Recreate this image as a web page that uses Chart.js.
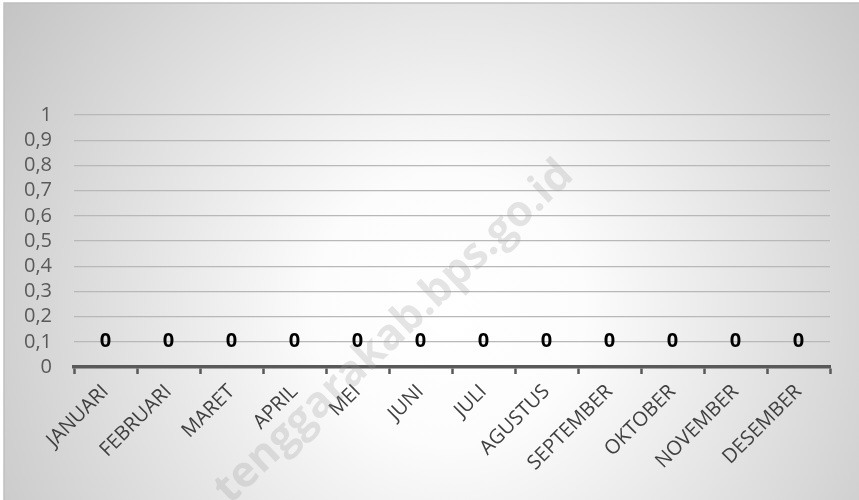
<!DOCTYPE html>
<html>
<head>
<meta charset="utf-8">
<script src="https://cdn.jsdelivr.net/npm/chart.js@4"></script>
<style>
  html, body { margin: 0; padding: 0; background: #ffffff; }
  #wrap { width: 859px; height: 500px; position: relative; }
</style>
</head>
<body>
<div id="wrap"><canvas id="myChart" width="859" height="500"></canvas></div>
<script>
let months = ["JANUARI", "FEBRUARI", "MARET", "APRIL", "MEI", "JUNI", "JULI",
  "AGUSTUS", "SEPTEMBER", "OKTOBER", "NOVEMBER", "DESEMBER"];
let values = [0, 0, 0, 0, 0, 0, 0, 0, 0, 0, 0, 0];
let yMin = 0;
let yMax = 1;
let yStep = 0.1;
let watermark = "tenggarakab.bps.go.id";

// background: radial grey-white gradient with a thin frame on top/left
const backgroundPlugin = {
  id: "background",
  beforeDraw(chart) {
    let ctx = chart.ctx;
    ctx.save();
    ctx.fillStyle = "#ffffff";
    ctx.fillRect(0, 0, chart.width, chart.height);
    let grad = ctx.createRadialGradient(450, 310, 0, 450, 310, 540);
    grad.addColorStop(0, "#ffffff");
    grad.addColorStop(0.25, "#fcfcfc");
    grad.addColorStop(1, "#c4c4c4");
    ctx.fillStyle = grad;
    ctx.fillRect(4, 3, chart.width, chart.height);
    ctx.strokeStyle = "#c0c0c0";
    ctx.lineWidth = 1.5;
    ctx.beginPath();
    ctx.moveTo(4, chart.height);
    ctx.lineTo(4, 3);
    ctx.lineTo(chart.width, 3);
    ctx.stroke();
    ctx.restore();
  }
};

// faint diagonal site watermark
const watermarkPlugin = {
  id: "watermark",
  beforeDatasetsDraw(chart) {
    let ctx = chart.ctx;
    ctx.save();
    ctx.translate(230, 505);
    ctx.rotate(-43.5 * Math.PI / 180);
    ctx.font = "bold 43px 'Open Sans'";
    ctx.fillStyle = "rgba(150, 150, 150, 0.25)";
    ctx.textAlign = "left";
    ctx.textBaseline = "alphabetic";
    ctx.fillText(watermark, 0, 0);
    ctx.restore();
  }
};

// bold value labels above each bar
const valueLabelPlugin = {
  id: "valueLabels",
  afterDatasetsDraw(chart) {
    let ctx = chart.ctx;
    let yScale = chart.scales.y;
    let meta = chart.getDatasetMeta(0);
    ctx.save();
    ctx.font = "bold 20px 'Open Sans'";
    ctx.fillStyle = "#000000";
    ctx.textAlign = "center";
    ctx.textBaseline = "middle";
    meta.data.forEach(function (bar, i) {
      let y = yScale.getPixelForValue(values[i]) - 26;
      ctx.fillText(String(values[i]), bar.x, y);
    });
    ctx.restore();
  }
};

function formatTick(value) {
  return Number(value.toFixed(1)).toString().replace(".", ",");
}

const ctx = document.getElementById("myChart");

new Chart(ctx, {
  type: "bar",
  data: {
    labels: months,
    datasets: [
      {
        data: values,
        backgroundColor: "#4472c4",
        borderWidth: 0,
      },
    ],
  },
  options: {
    responsive: false,
    animation: false,
    devicePixelRatio: 1,
    layout: {
      padding: {
        top: 115,
        right: 29,
        bottom: 0,
        left: 0,
      },
    },
    scales: {
      x: {
        offset: true,
        grid: {
          offset: true,
          drawOnChartArea: false,
          drawTicks: true,
          tickLength: 7,
          tickColor: "#595959",
          tickWidth: 2.5,
        },
        border: {
          color: "#595959",
          width: 3.5,
        },
        ticks: {
          color: "#404040",
          font: { family: "'Open Sans'", size: 20 },
          minRotation: 45,
          maxRotation: 45,
          padding: 6,
          autoSkip: false,
        },
        afterFit(scale) {
          scale.height = 133;
        },
      },
      y: {
        min: yMin,
        max: yMax,
        grid: {
          color: "#b8b8b8",
          lineWidth: 1.2,
          drawTicks: false,
        },
        border: {
          display: false,
        },
        ticks: {
          stepSize: yStep,
          autoSkip: false,
          color: "#595959",
          font: { family: "'Open Sans'", size: 20 },
          padding: 22,
          callback: formatTick,
        },
        afterFit(scale) {
          scale.width = 74;
        },
      },
    },
    plugins: {
      legend: {
        display: false,
      },
      tooltip: {
        enabled: false,
      },
    },
  },
  plugins: [backgroundPlugin, watermarkPlugin, valueLabelPlugin],
});
</script>
</body>
</html>
